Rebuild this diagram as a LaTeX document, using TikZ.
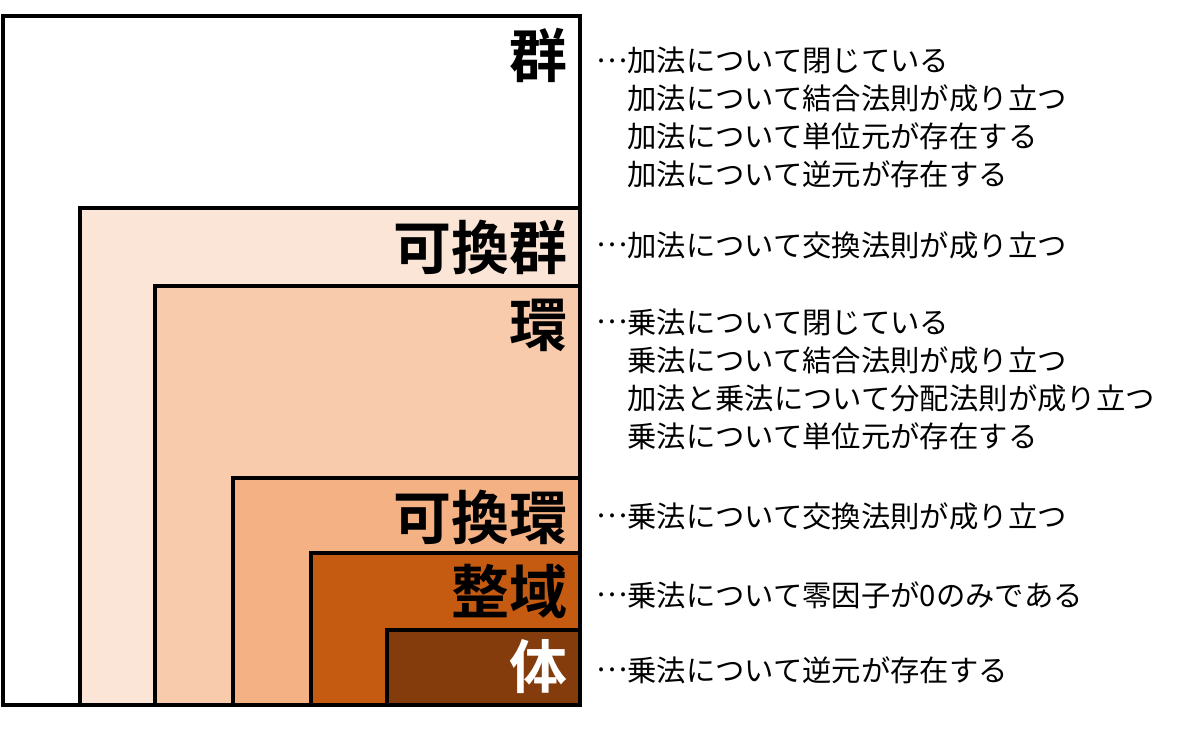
\documentclass[tikz,border=0pt]{standalone}
\usepackage{fontspec}
\newfontfamily\jpfont{Noto Sans CJK JP}
\newfontfamily\jpbold{Noto Sans CJK JP Bold}

\definecolor{peachA}{HTML}{FBE5D6}
\definecolor{peachB}{HTML}{F8CBAD}
\definecolor{peachC}{HTML}{F4B183}
\definecolor{rustD}{HTML}{C55A11}
\definecolor{brownE}{HTML}{843C0C}

\def\setRight{580}
\def\setBottom{705}
\def\labelX{568}
\def\textX{596}
\newcommand{\middots}{\raisebox{0.33em}{…}}

\begin{document}
\begin{tikzpicture}[x=0.02cm, y=-0.02cm,
    setbox/.style={draw=black, line width=2.8pt},
    setname/.style={anchor=east, inner sep=0pt, font=\jpbold\fontsize{33}{33}\selectfont},
    axioms/.style={anchor=west, align=left, inner sep=0pt, font=\jpfont\fontsize{16.7}{21.6}\selectfont}]
    \useasboundingbox (0,0) rectangle (1200,743);

    %% nested sets, all sharing the right and bottom edge
    \draw [setbox, fill=white]   (3,16)   rectangle (\setRight,\setBottom);
    \draw [setbox, fill=peachA]  (80,208) rectangle (\setRight,\setBottom);
    \draw [setbox, fill=peachB]  (155,286) rectangle (\setRight,\setBottom);
    \draw [setbox, fill=peachC]  (233,478) rectangle (\setRight,\setBottom);
    \draw [setbox, fill=rustD]   (311,553) rectangle (\setRight,\setBottom);
    \draw [setbox, fill=brownE]  (387,630) rectangle (\setRight,\setBottom);

    %% names
    \node [setname] (gun)    at (\labelX,55)  {群};
    \node [setname] (kagun)  at (\labelX,247) {可換群};
    \node [setname] (kan)    at (\labelX,325) {環};
    \node [setname] (kakan)  at (\labelX,517) {可換環};
    \node [setname] (seiiki) at (\labelX,591) {整域};
    \node [setname, text=white] (tai) at (\labelX,667) {体};

    %% axioms
    \node [axioms] (gunax) at (\textX,117.5) {\middots 加法について閉じている\\
        \phantom{…}加法について結合法則が成り立つ\\
        \phantom{…}加法について単位元が存在する\\
        \phantom{…}加法について逆元が存在する};
    \node [axioms] (kagunax) at (\textX,245) {\middots 加法について交換法則が成り立つ};
    \node [axioms] (kanax) at (\textX,379) {\middots 乗法について閉じている\\
        \phantom{…}乗法について結合法則が成り立つ\\
        \phantom{…}加法と乗法について分配法則が成り立つ\\
        \phantom{…}乗法について単位元が存在する};
    \node [axioms] (kakanax)  at (\textX,516) {\middots 乗法について交換法則が成り立つ};
    \node [axioms] (seiikiax) at (\textX,595) {\middots 乗法について零因子が0のみである};
    \node [axioms] (taiax)    at (\textX,670) {\middots 乗法について逆元が存在する};
\end{tikzpicture}
\end{document}
